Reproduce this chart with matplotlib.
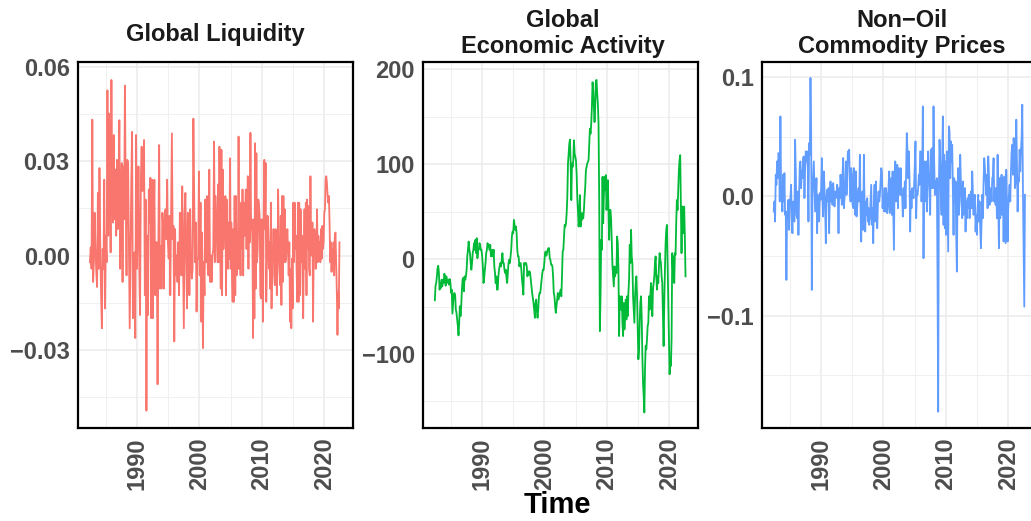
import numpy as np
import matplotlib
matplotlib.use("Agg")
import matplotlib.pyplot as plt
from matplotlib.ticker import FixedLocator

plt.rcParams['font.family'] = ['Liberation Sans', 'DejaVu Sans']
plt.rcParams['font.weight'] = 'bold'

# ---------------- data ----------------
titles = [["Global Liquidity"], ["Global", "Economic Activity"], ["Non\u2212Oil", "Commodity Prices"]]
colors = ["#F8766D", "#00BA38", "#619CFF"]
x_ticks = [1990, 2000, 2010, 2020]
x_tick_labels = ["1990", "2000", "2010", "2020"]

liq_span = [(1982.46, 2002.60), (2002.89, 2022.43)]
liq_part1 = [
    -0.0021, 0.0026, -0.0042, 0.0432, -0.0084, -0.0021, 0.0136, 0.0021, -0.0052, -0.0100,
    0.0199, -0.0042, 0.0278, 0.0031, -0.0126, -0.0231, 0.0021, -0.0042, 0.0241, -0.0168,
    0.0063, -0.0021, 0.0525, 0.0063, 0.0451, 0.0294, 0.0010, 0.0558, 0.0189, 0.0105,
    0.0383, 0.0115, 0.0273, 0.0063, 0.0304, 0.0084, 0.0189, 0.0430, -0.0042, 0.0189,
    0.0294, -0.0084, 0.0283, 0.0115, 0.0540, 0.0189, -0.0063, 0.0304, 0.0294, 0.0021,
    -0.0231, 0.0021, 0.0241, 0.0393, -0.0199, -0.0021, 0.0010, -0.0262, 0.0383, -0.0042,
    0.0084, 0.0283, -0.0042, -0.0189, 0.0247, 0.0346, 0.0205, 0.0210, 0.0367, -0.0126,
    0.0178, -0.0493, 0.0063, -0.0189, 0.0210, 0.0105, 0.0247, -0.0199, 0.0241, -0.0199,
    0.0094, 0.0241, -0.0126, 0.0042, 0.0042, -0.0409, 0.0042, 0.0351, -0.0105, 0.0031,
    -0.0105, 0.0136, 0.0084, -0.0105, 0.0136, 0.0147, 0.0052, 0.0241, 0.0042, -0.0010,
    0.0126, -0.0126, 0.0147, 0.0388, 0.0052, 0.0094, -0.0273, 0.0084, -0.0063, 0.0000,
    -0.0084, 0.0042, -0.0126, 0.0136, -0.0031, -0.0063, 0.0220, -0.0021, -0.0231, 0.0136,
    0.0199, -0.0021, -0.0168, 0.0136, 0.0115, -0.0126, 0.0147, -0.0021, -0.0073, -0.0042,
    0.0435, 0.0189, -0.0021, 0.0105, -0.0178, -0.0010, -0.0010, 0.0267, -0.0063, 0.0168,
    -0.0210, 0.0073, -0.0294, -0.0021, -0.0126, 0.0178, -0.0021, 0.0189, -0.0042, -0.0063,
    0.0273, -0.0084, 0.0000, -0.0084, 0.0000, 0.0021, 0.0362, -0.0021, 0.0189,
]
liq_part2 = [
    -0.0021, 0.0226, -0.0021, 0.0346, 0.0052, -0.0105, 0.0336, -0.0126, 0.0273, 0.0021,
    0.0105, 0.0063, 0.0189, -0.0126, 0.0178, 0.0021, -0.0042, 0.0105, -0.0010, 0.0309,
    -0.0042, 0.0105, -0.0063, -0.0147, 0.0084, -0.0147, 0.0189, -0.0126, 0.0189, -0.0063,
    0.0021, -0.0042, 0.0378, -0.0042, 0.0084, -0.0063, 0.0168, 0.0021, 0.0210, -0.0063,
    0.0168, 0.0063, 0.0147, 0.0210, 0.0021, 0.0105, 0.0252, -0.0042, 0.0241, 0.0042,
    0.0390, 0.0084, 0.0115, 0.0042, -0.0262, 0.0115, -0.0199, 0.0357, -0.0105, 0.0325,
    -0.0021, 0.0021, 0.0178, 0.0157, 0.0126, -0.0126, -0.0136, 0.0115, 0.0021, -0.0210,
    0.0115, 0.0304, 0.0084, 0.0294, -0.0147, 0.0000, 0.0126, 0.0084, -0.0042, 0.0042,
    -0.0105, 0.0168, -0.0168, 0.0031, -0.0021, 0.0084, -0.0063, -0.0094, 0.0084, 0.0042,
    -0.0126, -0.0042, 0.0210, 0.0042, -0.0021, -0.0094, 0.0126, -0.0157, 0.0189, -0.0084,
    0.0189, -0.0021, 0.0147, -0.0021, -0.0010, 0.0042, 0.0084, 0.0021, -0.0063, 0.0042,
    -0.0210, -0.0042, -0.0231, -0.0010, -0.0168, 0.0168, -0.0021, 0.0168, 0.0021, 0.0063,
    -0.0042, -0.0147, 0.0168, -0.0147, 0.0168, -0.0126, 0.0147, -0.0021, 0.0063, -0.0063,
    -0.0199, 0.0021, 0.0147, -0.0042, 0.0168, -0.0126, 0.0178, 0.0021, 0.0157, -0.0042,
    -0.0063, 0.0252, 0.0021, 0.0000, 0.0105, -0.0210, 0.0021, 0.0084, 0.0063, -0.0042,
    0.0021, 0.0147, -0.0021, 0.0063, 0.0000, 0.0042, -0.0021, 0.0084, -0.0010, 0.0094,
    0.0021, 0.0042, 0.0136, 0.0147, 0.0241, 0.0252, 0.0231, 0.0189, 0.0168, 0.0189,
    0.0105, -0.0021, 0.0042, -0.0052, 0.0021, -0.0042, 0.0042, -0.0063, 0.0063, 0.0073,
    -0.0021, -0.0115, -0.0252, -0.0115, -0.0168, 0.0042,
]

gea_span = [(1982.45, 2002.58), (2002.71, 2022.60)]
gea_part1 = [
    -43.4, -28.0, -25.2, -18.2, -9.4, -7.0, -14.7, -32.2, -25.2, -30.4,
    -21.7, -28.7, -21.7, -25.2, -15.4, -18.2, -28.0, -18.2, -25.2, -21.7,
    -21.7, -26.9, -21.0, -25.2, -35.7, -32.2, -57.4, -46.2, -36.4, -35.7,
    -37.4, -53.2, -56.7, -63.6, -70.6, -80.4, -67.1, -49.7, -60.1, -49.7,
    -32.2, -21.7, -19.9, -33.9, -18.2, -21.7, -18.2, -11.2, 2.8, 9.8,
    18.5, 9.8, 6.3, -4.2, -11.2, -4.2, 6.3, 9.8, 16.8, 9.8,
    20.3, 6.3, 22.0, 1.0, 9.8, 9.8, 16.8, 15.0, 9.8, 9.8,
    2.8, -7.7, -25.2, -19.9, -11.2, -4.2, 6.3, 9.8, 16.8, 13.3,
    15.0, 9.8, 15.0, 2.8, 6.3, 9.8, 2.8, 9.8, -7.7, -14.7,
    -25.2, -18.2, -32.2, -32.2, -18.2, -11.2, -7.0, -4.2, -7.7, -0.7,
    6.3, -4.2, -4.2, -11.2, -14.7, -11.2, -19.9, -25.2, -14.7, -4.2,
    -0.7, -4.2, 2.8, 9.8, 23.8, 29.0, 27.3, 41.3, 36.0, 30.8,
    34.3, 27.3, 9.8, 2.8, 2.8, -7.7, -4.2, -4.2, -11.2, -21.7,
    -28.7, -37.4, -4.2, -5.9, -4.2, -4.2, -7.7, -18.2, -12.9, -16.4,
    -12.9, -14.7, -21.7, -28.7, -35.7, -40.9, -46.2, -53.2, -61.9, -46.2,
    -42.7, -54.9, -61.9, -53.2, -39.2, -35.7, -35.7, -28.7, -21.7, -14.7,
    -11.2, -11.2, -4.2, 6.3, 8.0, 3.5, 6.3, 9.8, 11.5, 11.5,
    1.0, -0.7, -5.9, -5.9, -7.7, -18.2, -35.7, -39.2, -49.7, -56.7,
    -49.7, -42.7, -35.7, -42.7, -39.2, -35.7, -32.2,
]
gea_part2 = [
    -39.2, -18.2, 8.0, 9.8, 23.8, 36.0, 34.3, 37.8, 48.3, 65.7,
    100.7, 111.2, 121.7, 125.9, 100.7, 62.2, 100.7, 97.2, 104.2, 125.2,
    111.2, 107.7, 104.2, 90.2, 65.7, 51.8, 34.3, 44.8, 67.5, 34.3,
    48.3, 41.3, 48.3, 43.0, 51.8, 65.7, 76.2, 93.7, 97.2, 100.7,
    102.5, 104.2, 121.7, 137.4, 132.2, 142.7, 160.2, 186.4, 177.6, 160.2,
    144.4, 160.2, 188.1, 188.8, 174.2, 163.7, 142.7, 65.7, -75.9, -39.2,
    20.3, 9.8, 86.7, 37.8, 65.7, 86.7, 72.7, 88.5, 51.8, 65.7,
    83.2, 51.8, 20.3, 51.8, 51.8, 41.3, 16.8, -7.7, -18.2, -28.7,
    -7.7, -18.2, -11.2, -14.7, 23.8, 16.8, -11.2, -81.1, -39.2, -46.2,
    -53.2, -39.2, -67.1, -81.1, -46.2, -74.1, -60.1, -42.7, -63.6, -39.2,
    -60.1, -35.7, -21.7, 15.0, -4.2, 30.8, 2.8, -4.2, -39.2, -53.2,
    -67.1, -39.2, -25.2, -18.2, -39.2, -70.6, -105.6, -95.1, -67.1, -46.2,
    -39.2, -60.1, -102.1, -130.1, -144.1, -161.6, -116.1, -91.6, -95.1, -84.6,
    -70.6, -67.1, -39.2, -53.2, -39.2, -25.2, -35.7, -60.1, -32.2, -25.2,
    -18.2, -4.2, 2.8, -18.2, -32.2, -18.2, -25.2, -7.7, 6.3, -0.7,
    -4.2, -18.2, -25.2, -60.1, -91.6, -46.2, -11.2, 16.8, 30.8, 36.0,
    -4.2, -46.2, -84.6, -121.3, -105.6, -112.6, -84.6, 6.3, -11.2, 2.8,
    -25.2, 6.3, 4.5, 37.8, 62.2, 51.8, 72.7, 93.7, 104.2, 109.5,
    55.3, 6.3, 55.3, 55.3, 27.3, 55.3, 23.8, -18.2,
]

com_span = [(1982.43, 2002.86), (2003.00, 2022.67)]
com_part1 = [
    -0.0126, -0.0042, -0.0210, 0.0182, 0.0098, 0.0294, 0.0154, 0.0364, 0.0350, -0.0042,
    0.0672, 0.0070, 0.0014, -0.0126, 0.0182, -0.0042, 0.0196, -0.0154, -0.0126, -0.0700,
    -0.0126, -0.0182, -0.0028, -0.0280, -0.0042, -0.0014, 0.0098, -0.0182, -0.0308, -0.0042,
    -0.0182, -0.0210, 0.0476, 0.0210, -0.0154, -0.0182, 0.0042, -0.0322, 0.0014, 0.0266,
    0.0294, 0.0070, 0.0210, 0.0154, 0.0322, 0.0336, -0.0014, 0.0238, 0.0378, 0.0294,
    0.0378, 0.0238, -0.0210, 0.0448, 0.0350, 0.0994, 0.0574, -0.0784, 0.0014, 0.0154,
    0.0294, 0.0070, -0.0126, 0.0014, 0.0154, -0.0308, 0.0014, -0.0098, -0.0210, 0.0028,
    -0.0028, 0.0070, 0.0322, -0.0014, -0.0168, 0.0210, 0.0070, -0.0098, -0.0392, -0.0014,
    0.0056, -0.0042, 0.0070, -0.0308, 0.0014, 0.0126, -0.0042, 0.0098, -0.0070, 0.0112,
    0.0028, -0.0084, 0.0042, -0.0014, 0.0014, 0.0098, 0.0028, -0.0308, 0.0070, -0.0014,
    0.0182, 0.0070, -0.0070, 0.0182, 0.0322, -0.0098, -0.0014, 0.0070, 0.0294, 0.0014,
    0.0154, 0.0378, 0.0350, 0.0392, 0.0070, -0.0042, 0.0238, 0.0182, -0.0070, -0.0098,
    0.0238, -0.0042, -0.0154, 0.0210, -0.0168, -0.0098, 0.0014, 0.0070, -0.0042, 0.0350,
    -0.0098, -0.0378, -0.0042, 0.0042, -0.0280, 0.0350, -0.0070, -0.0294, -0.0042, -0.0154,
    -0.0014, -0.0210, -0.0098, -0.0238, -0.0182, -0.0042, 0.0098, -0.0238, -0.0098, -0.0392,
    -0.0042, 0.0098, -0.0210, 0.0126, -0.0098, -0.0266, -0.0070, 0.0042, -0.0042, 0.0014,
    0.0126, 0.0238, 0.0210, -0.0098, 0.0014, -0.0126, 0.0070, -0.0126, 0.0070, 0.0014,
    -0.0140, -0.0098, 0.0098, 0.0210, -0.0140, 0.0014, 0.0154, -0.0154, 0.0210, -0.0098,
    -0.0448, 0.0182, 0.0294, -0.0042, 0.0154, 0.0266, -0.0098, 0.0238, 0.0070, 0.0014,
    0.0238, 0.0014,
]
com_part2 = [
    0.0014, -0.0168, 0.0070, -0.0098, 0.0126, -0.0098, 0.0210, 0.0532, 0.0378, 0.0154,
    0.0378, 0.0154, -0.0294, 0.0042, -0.0098, 0.0070, 0.0056, -0.0014, 0.0098, 0.0294,
    0.0462, -0.0182, 0.0042, 0.0014, 0.0070, 0.0182, 0.0098, 0.0378, 0.0378, -0.0042,
    0.0182, 0.0756, -0.0518, 0.0294, -0.0042, 0.0182, 0.0294, -0.0126, 0.0238, 0.0378,
    0.0154, 0.0014, -0.0154, 0.0392, 0.0070, 0.0406, 0.0070, 0.0756, 0.0294, 0.0014,
    0.0126, 0.0014, 0.0154, -0.0672, -0.1806, 0.0070, 0.0476, 0.0294, 0.0014, -0.0154,
    0.0322, 0.0672, -0.0238, 0.0350, -0.0266, 0.0294, -0.0322, 0.0378, -0.0042, -0.0462,
    0.0588, 0.0546, 0.0154, 0.0462, 0.0294, 0.0434, 0.0070, -0.0322, 0.0154, -0.0042,
    0.0126, -0.0322, -0.0630, 0.0070, 0.0238, -0.0154, -0.0042, 0.0350, 0.0126, -0.0014,
    -0.0182, 0.0126, -0.0154, -0.0042, 0.0070, -0.0294, -0.0042, -0.0182, -0.0014, -0.0098,
    0.0014, -0.0182, -0.0042, 0.0042, -0.0098, 0.0210, 0.0014, -0.0154, -0.0014, 0.0014,
    -0.0294, -0.0154, -0.0322, -0.0098, 0.0014, -0.0210, -0.0042, -0.0266, -0.0434, -0.0210,
    0.0014, -0.0182, 0.0126, 0.0322, 0.0238, 0.0126, 0.0014, 0.0182, -0.0098, 0.0336,
    0.0182, -0.0070, 0.0014, 0.0070, -0.0042, 0.0154, 0.0168, 0.0322, -0.0042, 0.0070,
    -0.0070, 0.0070, -0.0182, 0.0350, -0.0042, -0.0434, 0.0154, -0.0182, 0.0126, 0.0182,
    -0.0154, 0.0154, -0.0378, 0.0168, -0.0098, -0.0392, 0.0224, -0.0042, -0.0378, -0.0098,
    0.0014, 0.0098, -0.0042, 0.0210, 0.0378, 0.0434, 0.0182, 0.0490, 0.0406, 0.0070,
    0.0126, 0.0644, 0.0294, -0.0126, 0.0154, 0.0126, 0.0392, 0.0210, 0.0392, 0.0490,
    0.0770, 0.0042, -0.0462, -0.0924, 0.0014,
]

y_ticks = [[-0.03, 0.0, 0.03, 0.06], [-100, 0, 100, 200], [-0.1, 0.0, 0.1]]
y_tick_labels = [["\u22120.03", "0.00", "0.03", "0.06"],
                 ["\u2212100", "0", "100", "200"],
                 ["\u22120.1", "0.0", "0.1"]]
y_minor = [[-0.045, -0.015, 0.015, 0.045], [-150, -50, 50, 150], [-0.15, -0.05, 0.05]]
y_limits = [(-0.0548, 0.0615), (-178.0, 207.7), (-0.1942, 0.1128)]

series = [(liq_span, [liq_part1, liq_part2]),
          (gea_span, [gea_part1, gea_part2]),
          (com_span, [com_part1, com_part2])]

# ---------------- layout ----------------
W, H = 1031, 521
fig = plt.figure(figsize=(W / 100, H / 100), dpi=100)
fig.patch.set_facecolor("white")

panel_left = [78, 423, 762]
panel_w, panel_top, panel_bottom = 275, 62, 428
title_cx = [215.5, 563, 902]

for i in range(3):
    ax = fig.add_axes([panel_left[i] / W, (H - panel_bottom) / H,
                       panel_w / W, (panel_bottom - panel_top) / H])
    span, parts = series[i]
    t = np.concatenate([np.linspace(s[0], s[1], len(p)) for s, p in zip(span, parts)])
    v = np.concatenate([np.asarray(p, dtype=float) for p in parts])
    ax.plot(t, v, color=colors[i], lw=1.3, solid_joinstyle="round", zorder=3)

    ax.set_xlim(1980.55, 2024.6)
    ax.set_ylim(*y_limits[i])
    ax.set_xticks(x_ticks)
    ax.set_xticklabels(x_tick_labels, rotation=90, ha="center", va="top")
    ax.set_yticks(y_ticks[i])
    ax.set_yticklabels(y_tick_labels[i])
    ax.xaxis.set_minor_locator(FixedLocator([1985, 1995, 2005, 2015]))
    ax.yaxis.set_minor_locator(FixedLocator(y_minor[i]))
    ax.grid(which="major", color="#EBEBEB", lw=1.1)
    ax.grid(which="minor", color="#F0F0F0", lw=0.7)
    ax.set_axisbelow(True)
    ax.tick_params(which="both", length=0)
    ax.tick_params(axis="y", labelsize=17, labelcolor="#4D4D4D", pad=6)
    ax.tick_params(axis="x", labelsize=17, labelcolor="#4D4D4D", pad=7)
    for sp in ax.spines.values():
        sp.set_linewidth(1.6)
        sp.set_color("black")

    lines = titles[i]
    if len(lines) == 1:
        baselines = [40.7]
    else:
        baselines = [26.7, 52.7]
    for line, b in zip(lines, baselines):
        fig.text(title_cx[i] / W, 1 - b / H, line, ha="center", va="baseline",
                 fontsize=17, fontweight="bold", color="#1A1A1A")

fig.text(557 / W, 1 - 513 / H, "Time", ha="center", va="baseline",
         fontsize=21, fontweight="bold", color="black")

fig.savefig("out.png", dpi=100, facecolor="white")
